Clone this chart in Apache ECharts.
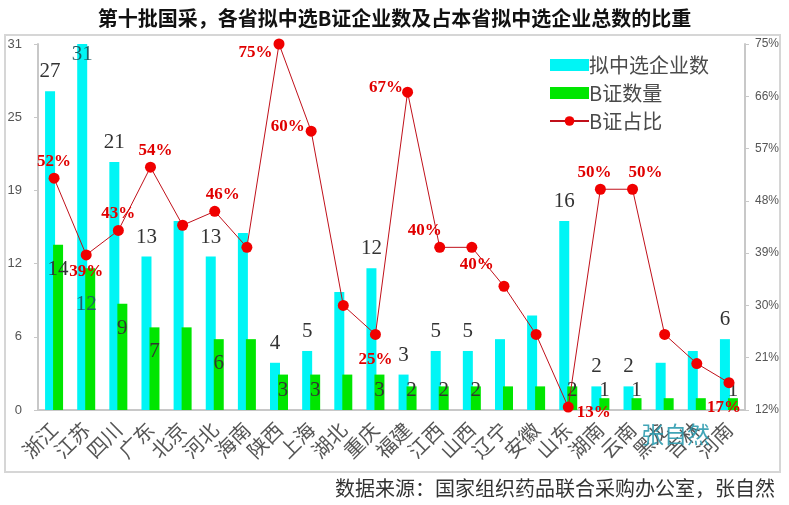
<!DOCTYPE html>
<html><head><meta charset="utf-8">
<script src="https://cdn.jsdelivr.net/npm/echarts@6/dist/echarts.min.js"></script>
<style>html,body{margin:0;padding:0;background:#fff}#c{width:789px;height:505px}</style>
</head><body><div id="c"></div>
<script>
// ---- data ----
const categories = ['浙江','江苏','四川','广东','北京','河北','海南','陕西','上海','湖北','重庆','福建','江西','山西','辽宁','安徽','山东','湖南','云南','黑龙','吉林','河南'];
const totalCompanies = [27,31,21,13,16,13,15,4,5,10,12,3,5,5,6,8,16,2,2,4,5,6];
const bCertCount = [14,12,9,7,7,6,6,3,3,3,3,2,2,2,2,2,2,1,1,1,1,1];
const bCertRatio = [51.9,38.7,42.9,53.8,43.8,46.2,40,75,60,30,25,66.7,40,40,33.3,25,12.5,50,50,25,20,16.7];
const leftAxisMax = 31;
const rightAxisMin = 12, rightAxisMax = 75, rightAxisStep = 9;
const unlabeled = ['北京','海南','湖北','辽宁','安徽','黑龙','吉林'];

// ---- layout of labels (style, not data) ----
const ratioLabelPos = {'浙江':'top','江苏':'bottom','四川':'top','广东':'top','河北':'top','陕西':'left','上海':'left','重庆':'bottom','福建':'left','江西':'top','山西':'bottom','山东':'right','湖南':'top','云南':'top','河南':'bottom'};
const ratioLabelShift = {'广东':[5,0],'河北':[8,0],'陕西':[0,9],'上海':[0,-5],'福建':[2,-5],'重庆':[0,8],'江西':[-15,0],'山西':[5,0],'湖南':[-6,0],'云南':[13,0],'河南':[-5,8],'山东':[0,6]};

const serif = "'Liberation Serif','Noto Sans CJK SC',serif";
const sans = "'Noto Sans CJK SC',sans-serif";

const totalData = totalCompanies.map((v,i)=>{
  const c = categories[i];
  const show = unlabeled.indexOf(c) < 0;
  const lab = {show, position:'top', distance:9};
  if (c === '江苏') { lab.position = 'insideTop'; lab.distance = 0; lab.color = '#1f5f66'; }
  return {value:v, label:lab};
});
const bData = bCertCount.map((v,i)=>{
  const c = categories[i];
  const show = unlabeled.indexOf(c) < 0;
  const lab = v >= 5 ? {show, position:'insideTop', distance:14} : {show, position:'insideBottom', distance:9};
  if (c === '江苏') { lab.distance = 26; lab.offset = [-4,0]; lab.color='#1f5f66'; }
  return {value:v, label:lab};
});
const ratioData = bCertRatio.map((v,i)=>{
  const c = categories[i];
  const show = unlabeled.indexOf(c) < 0;
  const pos = ratioLabelPos[c] || 'top';
  const lab = {show, position: pos, distance: pos === 'left' ? 1 : 3};
  if (ratioLabelShift[c]) lab.offset = ratioLabelShift[c];
  return {value:v, label:lab};
});

const chart = echarts.init(document.getElementById('c'), null, {renderer:'canvas'});
chart.setOption({
  backgroundColor:'#fff',
  animation:false,
  title:{text:'第十批国采，各省拟中选B证企业数及占本省拟中选企业总数的比重', left:'center', top:3,
    textStyle:{fontSize:20, fontWeight:'bold', fontFamily:sans, color:'#111'}},
  legend:{orient:'vertical', left:544, top:50, itemWidth:39, itemHeight:12, itemGap:8,
    textStyle:{fontSize:20, fontFamily:sans, color:'#4a4a4a', padding:[0,0,0,-5]},
    data:[{name:'拟中选企业数', icon:'rect'},{name:'B证数量', icon:'rect'},{name:'B证占比'}]},
  grid:{left:38, right:44, top:44, bottom:95},
  xAxis:{type:'category', data:categories,
    axisLine:{lineStyle:{color:'#c8c8c8', width:2}}, axisTick:{show:false},
    axisLabel:{interval:0, rotate:45, fontSize:20, fontFamily:sans, color:'#555', margin:16}},
  yAxis:[
    {type:'value', min:0, max:leftAxisMax, interval:leftAxisMax/5,
      axisLine:{show:true, lineStyle:{color:'#c8c8c8', width:2}},
      axisTick:{show:true, length:4, lineStyle:{color:'#c8c8c8'}},
      splitLine:{show:false},
      axisLabel:{formatter:v=>Math.round(v), fontSize:13, color:'#555', fontFamily:"'Liberation Sans',sans-serif", margin:16}},
    {type:'value', min:rightAxisMin, max:rightAxisMax, interval:rightAxisStep,
      axisLine:{show:true, lineStyle:{color:'#c8c8c8', width:2}},
      axisTick:{show:true, length:4, lineStyle:{color:'#c8c8c8'}},
      splitLine:{show:false},
      axisLabel:{formatter:v=>v+'%', fontSize:12, color:'#555', fontFamily:"'Liberation Sans',sans-serif", margin:10}}
  ],
  series:[
    {name:'拟中选企业数', type:'bar', data:totalData, barWidth:10, barGap:'-20%',
      itemStyle:{color:'#00f5f5'},
      label:{fontSize:21, fontFamily:serif, color:'#333'}},
    {name:'B证数量', type:'bar', data:bData, barWidth:10,
      itemStyle:{color:'#00e600'},
      label:{fontSize:21, fontFamily:serif, color:'#333'}},
    {name:'B证占比', type:'line', yAxisIndex:1, data:ratioData, z:5,
      symbol:'circle', symbolSize:11,
      lineStyle:{color:'#c0101a', width:1}, itemStyle:{color:'#f00000'},
      label:{fontSize:17, fontWeight:'bold', fontFamily:serif, color:'#e00000', formatter:p=>Math.round(p.value)+'%'}}
  ],
  graphic:[
    {type:'rect', shape:{x:5, y:35, width:775, height:437}, style:{fill:'none', stroke:'#d6d6d6', lineWidth:2}, z:-1, silent:true},
    {type:'text', x:641, y:423, style:{text:'张自然', fontSize:23, fontFamily:sans, fill:'rgba(45,155,175,0.9)'}, z:10},
    {type:'text', right:14, top:478, style:{text:'数据来源：国家组织药品联合采购办公室，张自然', fontSize:20, fontFamily:sans, fill:'#333'}}
  ]
});
</script></body></html>
